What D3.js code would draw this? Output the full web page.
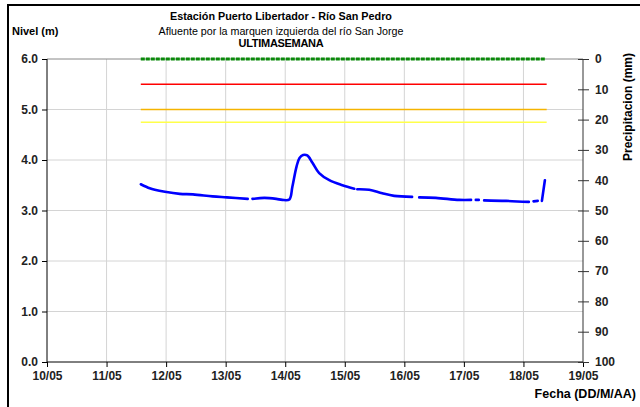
<!DOCTYPE html>
<html><head><meta charset="utf-8">
<script src="https://cdn.jsdelivr.net/npm/d3@7"></script>
<style>body{margin:0;background:#fff}text{font-family:"Liberation Sans",Arial,sans-serif}</style>
</head><body><svg id="c" width="640" height="407"></svg>
<script>
// Data: time in days since 10/05 00:00
const dateTicks = ["10/05","11/05","12/05","13/05","14/05","15/05","16/05","17/05","18/05","19/05"];
const levelTicks = [0,1,2,3,4,5,6];
const precipTicks = [0,10,20,30,40,50,60,70,80,90,100];
const levelTimes = [1.575,1.725,1.81,1.98,2.23,2.45,2.78,3.02,3.37,3.40,3.45,3.65,3.85,3.95,4.07,4.12,4.19,4.24,4.30,4.37,4.46,4.57,4.74,4.96,5.16,5.18,5.21,5.41,5.63,5.83,6.13,6.18,6.25,6.53,6.92,7.12,7.15,7.20,7.25,7.29,7.34,7.71,8.09,8.12,8.17,8.24,8.27,8.31,8.36];
const levelValues = [3.52,3.44,3.41,3.37,3.33,3.32,3.28,3.26,3.23,null,3.23,3.25,3.23,3.21,3.22,3.47,3.87,4.04,4.10,4.09,3.94,3.74,3.60,3.50,3.43,null,3.42,3.41,3.34,3.29,3.27,null,3.26,3.25,3.21,3.21,null,3.21,3.21,null,3.20,3.19,3.17,null,3.18,3.19,null,3.19,3.60];
const thresholdNames = ["roja","naranja","amarilla"];
const thresholdValues = [5.5,5.0,4.75];
const thresholdColors = ["#ff0000","#f5b400","#ffff4a"];
const thresholdRange = [1.575,8.39];
const precipTimes = [1.575,8.37];
const precipValues = [0,0];

const svg = d3.select("#c");
const L=47,R=583,T=59,B=362;
const x = d3.scaleLinear().domain([0,9]).range([L,R]);
const y = d3.scaleLinear().domain([0,6]).range([B,T]);
const yp = d3.scaleLinear().domain([0,100]).range([T,B]);

// frame
svg.append("path").attr("d","M8,407 L8,5 L640,5").attr("fill","none").attr("stroke","#000").attr("stroke-width",2);

// grid
svg.append("g").selectAll("line").data(d3.range(1,9)).join("line")
  .attr("x1",d=>x(d)).attr("x2",d=>x(d)).attr("y1",T).attr("y2",B)
  .attr("stroke","#d4d4d4").attr("stroke-width",1);
svg.append("g").selectAll("line").data([1,2,3,4,5]).join("line")
  .attr("x1",L).attr("x2",R).attr("y1",d=>y(d)).attr("y2",d=>y(d))
  .attr("stroke","#d4d4d4").attr("stroke-width",1);
svg.append("line").attr("x1",L).attr("x2",R).attr("y1",T).attr("y2",T).attr("stroke","#888");

// thresholds
thresholdValues.forEach((v,i)=>{
  svg.append("line").attr("x1",x(thresholdRange[0])).attr("x2",x(thresholdRange[1]))
    .attr("y1",y(v)).attr("y2",y(v)).attr("stroke",thresholdColors[i]).attr("stroke-width",1.5);
});

// precipitation (zero)
svg.append("path").datum(precipTimes.map((t,i)=>[t,precipValues[i]]))
  .attr("d",d3.line().x(d=>x(d[0])).y(d=>yp(d[1])))
  .attr("fill","none").attr("stroke","#0a8a0a").attr("stroke-width",3).attr("stroke-dasharray","4,1");

// level
const pts = levelTimes.map((t,i)=>[t,levelValues[i]]);
svg.append("path").datum(pts)
  .attr("d",d3.line().defined(d=>d[1]!==null).x(d=>x(d[0])).y(d=>y(d[1])).curve(d3.curveCatmullRom.alpha(0.5)))
  .attr("fill","none").attr("stroke","#0000ff").attr("stroke-width",2.6).attr("stroke-linecap","round");

// axes
const fs = "12px";
const ax = svg.append("g").attr("transform",`translate(${L},0)`)
  .call(d3.axisLeft(y).tickValues(levelTicks).tickFormat(d3.format(".1f")).tickSize(5).tickPadding(4));
ax.select(".domain").attr("stroke","#000").attr("d",`M0,${T}V${B}`);
ax.selectAll("text").attr("font-size",fs).attr("font-weight","bold").attr("fill","#222").style("font-family","Liberation Sans, Arial");

const bx = svg.append("g").attr("transform",`translate(0,${B})`)
  .call(d3.axisBottom(x).tickValues(d3.range(0,10)).tickFormat(i=>dateTicks[i]).tickSize(5).tickPadding(4));
bx.select(".domain").attr("stroke","#000").attr("d",`M${L},0H${R}`);
bx.selectAll("text").attr("font-size",fs).attr("font-weight","bold").attr("fill","#222").style("font-family","Liberation Sans, Arial");

const rx = svg.append("g").attr("transform",`translate(${R},0)`)
  .call(d3.axisRight(yp).tickValues(precipTicks).tickSize(6).tickPadding(6));
rx.select(".domain").attr("stroke","#333").attr("d",`M0,${T}V${B}`);
rx.selectAll(".tick line").attr("x1",-5).attr("x2",6).attr("stroke","#333");
rx.selectAll("text").attr("font-size",fs).attr("font-weight","bold").attr("fill","#222").style("font-family","Liberation Sans, Arial");

// titles
const t = svg.append("g").attr("font-size","11px").attr("fill","#000");
t.append("text").attr("x",281).attr("y",20).attr("text-anchor","middle").attr("font-weight","bold").attr("font-size","10.8px").text("Estación Puerto Libertador - Río San Pedro");
t.append("text").attr("x",281).attr("y",35).attr("text-anchor","middle").attr("font-size","10.7px").text("Afluente por la marquen izquierda del río San Jorge");
t.append("text").attr("x",281).attr("y",47).attr("text-anchor","middle").attr("font-weight","bold").attr("letter-spacing","-0.3").text("ULTIMASEMANA");
t.append("text").attr("x",12).attr("y",35).attr("font-weight","bold").text("Nivel (m)");
t.append("text").attr("x",636).attr("y",398).attr("text-anchor","end").attr("font-weight","bold").attr("font-size","12.5px").text("Fecha (DD/M/AA)");
t.append("text").attr("transform","translate(632,107) rotate(-90)").attr("text-anchor","middle").attr("font-weight","bold").attr("font-size","12px").text("Precipitacion (mm)");
</script></body></html>
